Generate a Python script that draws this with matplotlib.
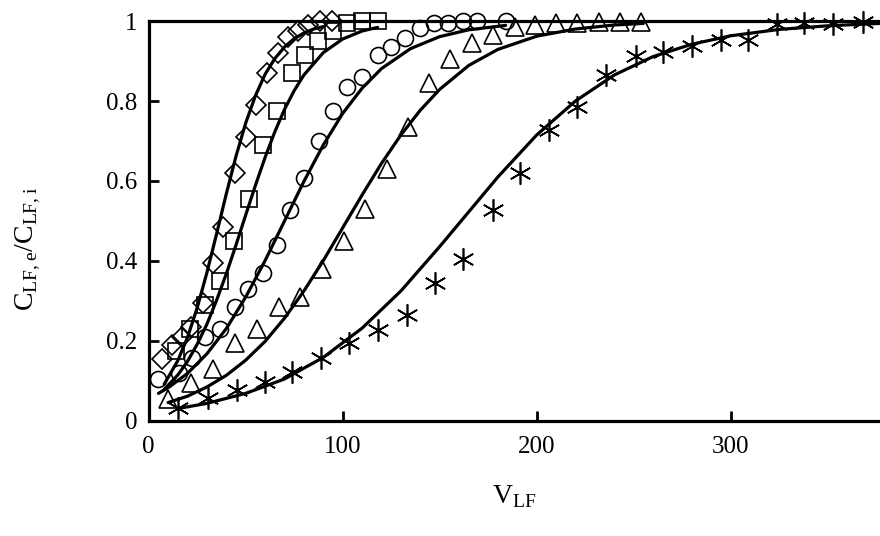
import numpy as np
import matplotlib
matplotlib.use("Agg")
import matplotlib.pyplot as plt

plt.rcParams["font.family"] = ["Liberation Serif", "DejaVu Serif"]
plt.rcParams["mathtext.fontset"] = "custom"
plt.rcParams["mathtext.rm"] = "Liberation Serif"

# ---- measured breakthrough points ----
dia_x = [7, 12, 17, 22, 28, 33, 38.5, 44.5, 50, 55.5, 61, 66.5, 72, 77, 82, 88.5, 94.5]
dia_y = [0.155, 0.19, 0.21, 0.235, 0.295, 0.395, 0.485, 0.62, 0.71, 0.79, 0.87, 0.92,
         0.96, 0.975, 0.99, 1.0, 1.0]

sq_x = [14, 21.5, 29, 37, 44, 51.5, 59, 66, 74, 80.5, 87.5, 95, 102, 110, 118]
sq_y = [0.175, 0.23, 0.29, 0.35, 0.45, 0.555, 0.69, 0.775, 0.87, 0.915, 0.95, 0.975,
        0.995, 1.0, 1.0]

circ_x = [5, 15.5, 22.5, 29, 37, 44.5, 51, 59, 66, 73, 80, 88, 95, 102, 110, 118, 125,
          132, 140, 147, 154.5, 162, 169, 184]
circ_y = [0.105, 0.12, 0.158, 0.21, 0.23, 0.285, 0.33, 0.37, 0.44, 0.527, 0.607, 0.70,
          0.775, 0.835, 0.86, 0.915, 0.935, 0.958, 0.982, 0.995, 0.995, 1.0, 1.0, 1.0]

tri_x = [10, 22, 33, 44.5, 56, 67, 78, 89.5, 100.5, 111.5, 123, 133.5, 144.5, 155.5,
         166.5, 177.5, 189, 199, 210, 221, 232, 243, 254]
tri_y = [0.055, 0.095, 0.13, 0.195, 0.23, 0.285, 0.31, 0.38, 0.45, 0.53, 0.63, 0.735,
         0.845, 0.905, 0.945, 0.965, 0.985, 0.99, 0.995, 0.995, 0.997, 0.997, 0.997]

ast_x = [15, 30.5, 45.5, 60, 74, 89, 103, 118, 133, 147.5, 162, 177.5, 191.5, 206.5,
         221, 236, 251, 265, 280, 295, 309, 324, 338, 353, 368]
ast_y = [0.033, 0.058, 0.078, 0.098, 0.123, 0.158, 0.195, 0.228, 0.265, 0.345, 0.405,
         0.527, 0.62, 0.727, 0.785, 0.865, 0.912, 0.922, 0.937, 0.952, 0.952, 0.992,
         0.995, 0.992, 0.997]

# ---- fitted curves ----
fit_dia_x = [8, 15, 20, 25, 30, 35, 40, 45, 50, 55, 60, 65, 70, 75, 80, 85, 90]
fit_dia_y = [0.092, 0.151, 0.209, 0.283, 0.371, 0.468, 0.568, 0.662, 0.745, 0.813,
             0.867, 0.906, 0.935, 0.956, 0.970, 0.980, 0.986]

fit_sq_x = [8, 15, 20, 25, 30, 35, 40, 45, 50, 55, 60, 65, 70, 75, 80, 90, 100, 110, 118]
fit_sq_y = [0.079, 0.115, 0.149, 0.192, 0.242, 0.302, 0.368, 0.440, 0.515, 0.589,
            0.659, 0.723, 0.779, 0.826, 0.865, 0.921, 0.955, 0.975, 0.984]

fit_circ_x = [5, 10, 20, 30, 40, 50, 60, 70, 80, 90, 100, 110, 120, 135, 150, 165, 184]
fit_circ_y = [0.069, 0.083, 0.119, 0.168, 0.231, 0.310, 0.401, 0.5, 0.599, 0.690,
              0.769, 0.832, 0.881, 0.931, 0.961, 0.978, 0.989]

fit_tri_x = [10, 20, 30, 40, 50, 60, 70, 80, 90, 100, 110, 120, 130, 140, 150, 165, 180,
             200, 220, 240, 255]
fit_tri_y = [0.046, 0.062, 0.085, 0.114, 0.152, 0.199, 0.257, 0.325, 0.401, 0.483,
             0.565, 0.644, 0.715, 0.777, 0.829, 0.889, 0.929, 0.962, 0.980, 0.990, 0.994]

fit_ast_x = [15, 30, 50, 70, 90, 110, 130, 150, 165, 180, 200, 220, 240, 260, 280, 300,
             325, 350, 377]
fit_ast_y = [0.031, 0.044, 0.069, 0.105, 0.159, 0.232, 0.325, 0.436, 0.523, 0.610,
             0.715, 0.800, 0.865, 0.911, 0.942, 0.963, 0.979, 0.988, 0.994]

y_ticks = [0, 0.2, 0.4, 0.6, 0.8, 1.0]
y_tick_labels = ["0", "0.2", "0.4", "0.6", "0.8", "1"]
x_ticks = [0, 100, 200, 300]

fig = plt.figure(figsize=(8.8, 5.36), dpi=100)
ax = fig.add_axes([0.169, 0.2146, 0.831, 0.7462])

for fx, fy in [(fit_dia_x, fit_dia_y), (fit_sq_x, fit_sq_y), (fit_circ_x, fit_circ_y),
               (fit_tri_x, fit_tri_y), (fit_ast_x, fit_ast_y)]:
    ax.plot(fx, fy, color="black", lw=2.3, solid_capstyle="round", zorder=3)

mk = dict(ls="none", mfc="none", mec="black", clip_on=False, zorder=4)
ax.plot(dia_x, dia_y, marker="D", ms=10, mew=1.2, **mk)
ax.plot(sq_x, sq_y, marker="s", ms=11, mew=1.2, **mk)
ax.plot(circ_x, circ_y, marker="o", ms=11.5, mew=1.2, **mk)
ax.plot(tri_x, tri_y, marker="^", ms=13, mew=1.2, **mk)
ax.plot(ast_x, ast_y, marker=(6, 2, 0), ms=16, mew=1.2, **mk)

ax.set_xlim(0, 377)
ax.set_ylim(0, 1)
ax.set_xticks(x_ticks)
ax.set_yticks(y_ticks)
ax.set_yticklabels(y_tick_labels)
ax.tick_params(direction="in", length=7, width=2, labelsize=18, colors="black")
ax.tick_params(axis="x", pad=11)
ax.tick_params(axis="y", pad=8)
for side in ["left", "bottom", "top"]:
    ax.spines[side].set_linewidth(2.3)
ax.spines["right"].set_visible(False)

ax.set_xlabel(r"V$_{\mathrm{LF}}$", fontsize=20, labelpad=18)
ax.set_ylabel(r"C$_{\mathrm{LF,e}}$/C$_{\mathrm{LF,i}}$", fontsize=20)
ax.yaxis.set_label_coords(-0.145, 0.43)

fig.savefig("out.png", dpi=100, facecolor="white")
